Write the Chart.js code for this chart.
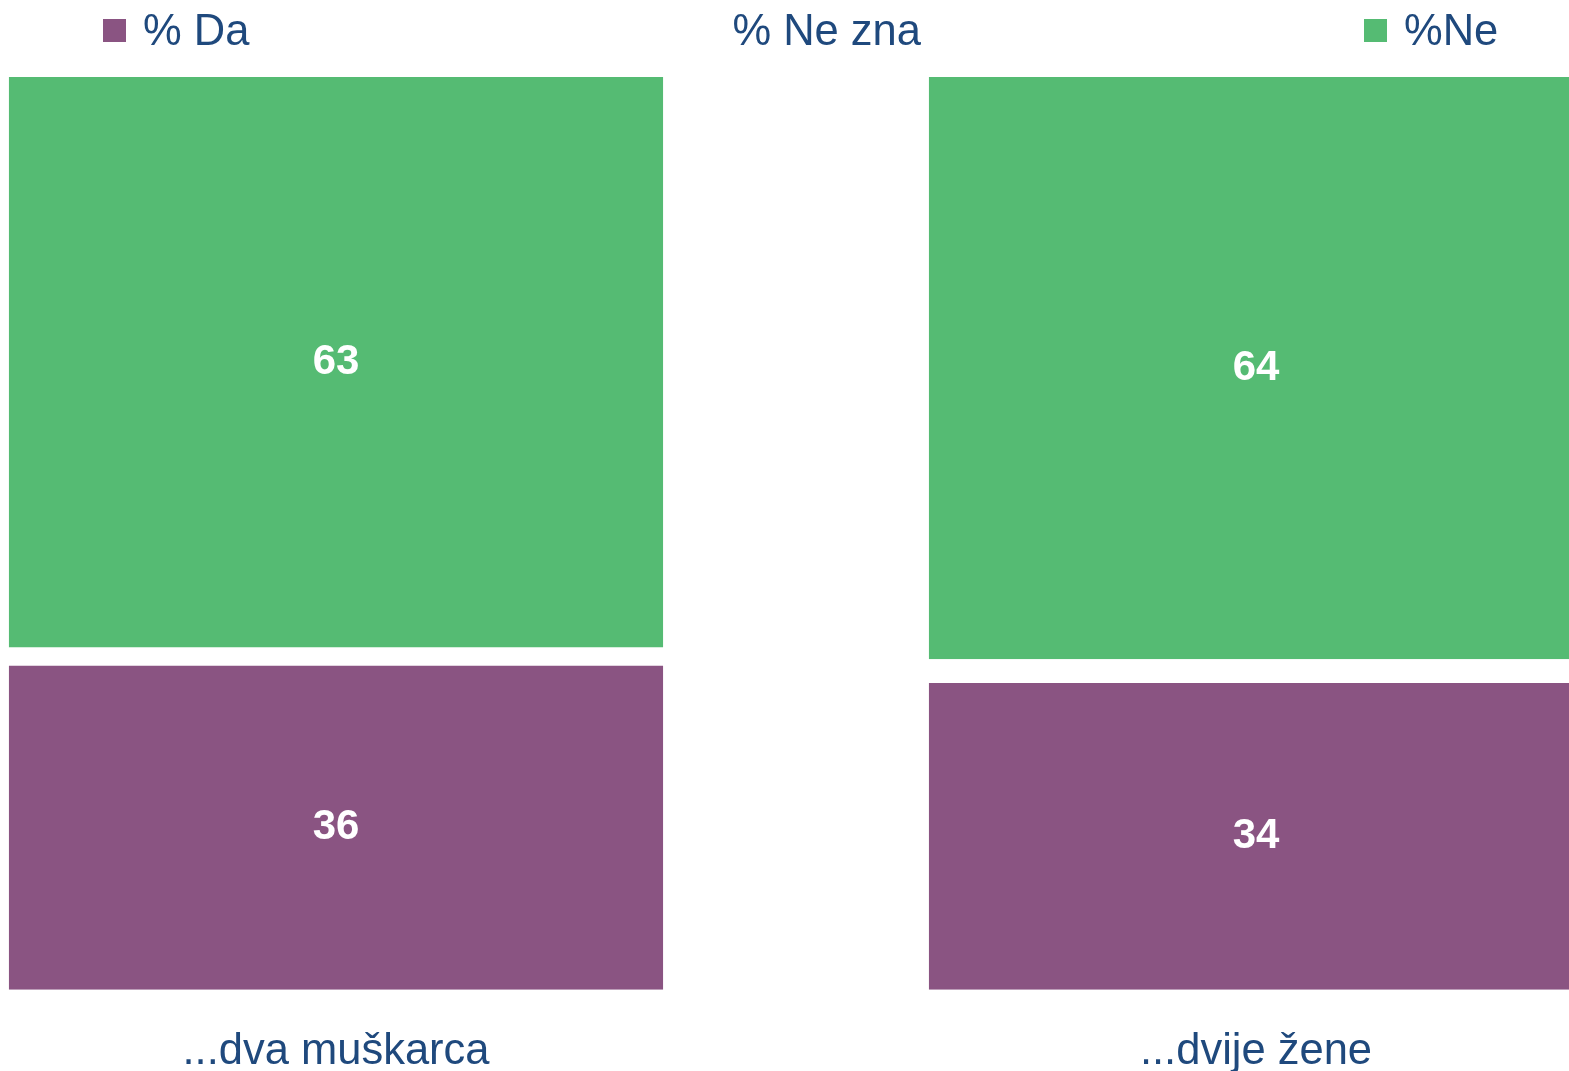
<!DOCTYPE html>
<html>
<head>
<meta charset="utf-8">
<script src="https://cdn.jsdelivr.net/npm/chart.js@4/dist/chart.umd.min.js"></script>
<style>
  html, body { margin: 0; padding: 0; background: #fff; overflow: hidden; }
  body { width: 1569px; height: 1071px; position: relative; font-family: "Liberation Sans", Arial, sans-serif; }
  .chart-wrap { position: absolute; left: -124px; top: 0; width: 1840px; height: 1114px; }
  .legend { position: absolute; top: 6px; left: 103px; display: flex; gap: 443px; align-items: center; }
  .legend-item { display: flex; align-items: center; font-size: 43.5px; color: #1F497D; line-height: 48px; }
  .legend-box { width: 23px; height: 23px; margin-right: 17px; }
</style>
</head>
<body>
<div class="chart-wrap"><canvas id="chart"></canvas></div>
<div class="legend" id="legend"></div>
<script>
const categories = ["...dva muškarca", "...dvije žene"];
const seriesNames = ["% Da", "% Ne zna", "%Ne"];
const daValues = [35.5, 33.6];
const neZnaValues = [2.0, 2.6];
const neValues = [62.5, 63.8];

const colors = {
  purple: "#8A5482",
  white: "#FFFFFF",
  green: "#55BB73",
  text: "#1F497D"
};

const seriesColors = [colors.purple, colors.white, colors.green];
const seriesValues = [daValues, neZnaValues, neValues];

// white bold numbers in the middle of each coloured segment
const segmentLabels = {
  id: "segmentLabels",
  afterDatasetsDraw(chart) {
    const ctx = chart.ctx;
    ctx.save();
    ctx.fillStyle = "#fff";
    ctx.font = "bold 42px 'Liberation Sans', Arial, sans-serif";
    ctx.textAlign = "center";
    ctx.textBaseline = "middle";
    chart.data.datasets.forEach((ds, i) => {
      if (ds.backgroundColor === colors.white) return;
      chart.getDatasetMeta(i).data.forEach((bar, j) => {
        const y = (bar.y + bar.base) / 2;
        ctx.fillText(Math.round(ds.data[j]), bar.x, y);
      });
    });
    ctx.restore();
  }
};

const legendEl = document.getElementById("legend");
seriesNames.forEach((name, i) => {
  const item = document.createElement("div");
  item.className = "legend-item";
  item.innerHTML = `<span class="legend-box" style="background:${seriesColors[i]}"></span>${name}`;
  legendEl.appendChild(item);
});

new Chart(document.getElementById("chart"), {
  type: "bar",
  data: {
    labels: categories,
    datasets: seriesNames.map((name, i) => ({
      label: name,
      data: seriesValues[i],
      backgroundColor: seriesColors[i],
      categoryPercentage: 1,
      barPercentage: 0.711
    }))
  },
  options: {
    responsive: true,
    maintainAspectRatio: false,
    animation: false,
    layout: { padding: { top: 77, bottom: 0, left: 0, right: 0 } },
    plugins: {
      legend: { display: false },
      tooltip: { enabled: false }
    },
    scales: {
      x: {
        stacked: true,
        grid: { display: false, drawTicks: false },
        border: { display: false },
        ticks: {
          color: colors.text,
          font: { size: 43.5, family: "'Liberation Sans', Arial, sans-serif" },
          padding: 36
        }
      },
      y: {
        stacked: true,
        display: false,
        min: 0,
        max: 100
      }
    }
  },
  plugins: [segmentLabels]
});
</script>
</body>
</html>
